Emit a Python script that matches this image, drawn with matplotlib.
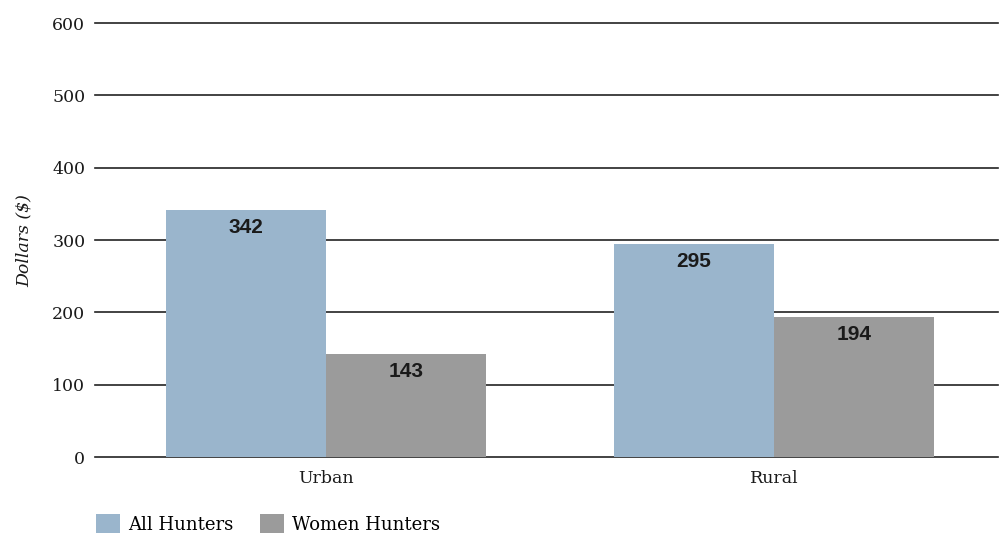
import numpy as np
import matplotlib.pyplot as plt
from matplotlib.patches import Patch

# data
categories = ['Urban', 'Rural']
all_hunters = [342, 295]
women_hunters = [143, 194]
series_names = ['All Hunters', 'Women Hunters']
yticks = [0, 100, 200, 300, 400, 500, 600]

blue = '#9ab5cc'
grey = '#9b9b9b'
serif = ['DejaVu Serif']
narrow = ['Liberation Sans Narrow', 'Liberation Sans', 'DejaVu Sans']

fig = plt.figure(figsize=(10.03, 5.39), dpi=100)
ax = fig.add_axes([0.0947, 0.152, 0.9003, 0.805])

x = np.arange(len(categories))
w = 0.357
b1 = ax.bar(x - w / 2, all_hunters, w, color=blue, zorder=3)
b2 = ax.bar(x + w / 2, women_hunters, w, color=grey, zorder=3)

for bars, vals in [(b1, all_hunters), (b2, women_hunters)]:
    for rect, v in zip(bars, vals):
        ax.text(rect.get_x() + rect.get_width() / 2, v - 11, str(v),
                ha='center', va='top', fontsize=15, fontweight='bold',
                family=narrow, color='#1a1a1a', zorder=4)

ax.set_ylim(0, 600)
ax.set_xlim(-0.516, 1.5)
ax.set_yticks(yticks)
ax.set_yticklabels([str(t) for t in yticks], family=serif, fontsize=12.5, color='#1a1a1a')
ax.set_xticks(x)
ax.set_xticklabels(categories, family=serif, fontsize=12.5, color='#1a1a1a')
ax.tick_params(axis='y', length=0, pad=7)
ax.tick_params(axis='x', length=0, pad=9)

ax.grid(axis='y', color='#222222', linewidth=1.2, zorder=1)
for gl in ax.get_ygridlines():
    gl.set_clip_on(False)
for s in ax.spines.values():
    s.set_visible(False)

ax.set_ylabel('Dollars ($)', family=serif, style='italic', fontsize=12.5,
              color='#1a1a1a', labelpad=14)

handles = [Patch(facecolor=blue, label=series_names[0]),
           Patch(facecolor=grey, label=series_names[1])]
fig.legend(handles=handles, loc='lower left', bbox_to_anchor=(0.08, -0.02),
           ncol=2, frameon=False, prop={'family': serif, 'size': 13},
           handlelength=1.3, handleheight=1.3, handletextpad=0.45,
           columnspacing=1.5)

fig.savefig('out.png', dpi=100)
